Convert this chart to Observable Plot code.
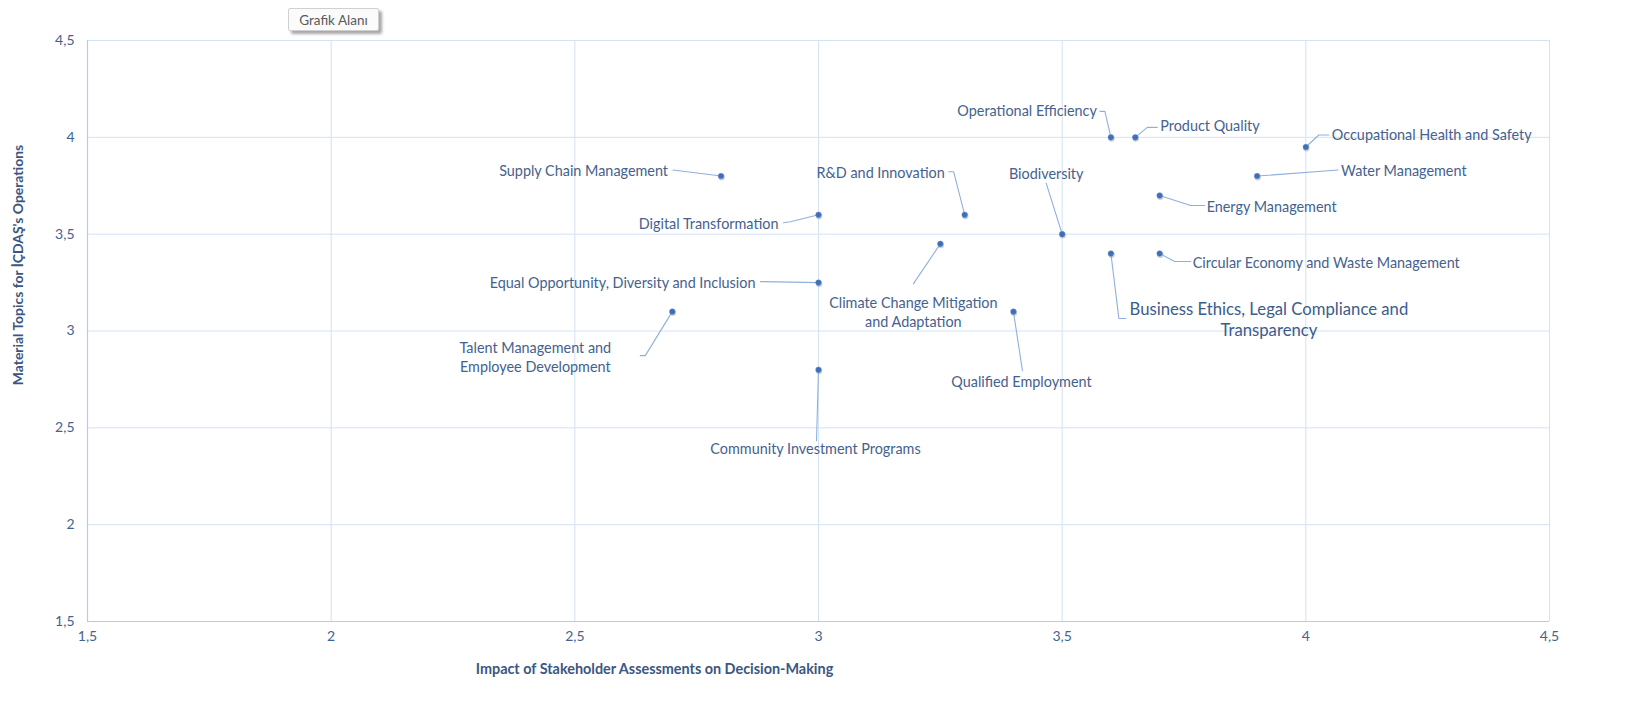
<!DOCTYPE html>
<html>
<head>
<meta charset="utf-8">
<script src="https://cdn.jsdelivr.net/npm/d3@7"></script>
<script src="https://cdn.jsdelivr.net/npm/@observablehq/plot@0.6"></script>
<style>
  html, body { margin: 0; padding: 0; background: #fff; }
  #wrap { position: relative; width: 1634px; height: 710px; }
  #tip {
    position: absolute; left: 288px; top: 8px; width: 91px; height: 23px;
    background: #fbfbfb; border: 1px solid #d0d0d0; border-radius: 2px;
    box-shadow: 3px 3px 3px rgba(0,0,0,0.35);
    font: 13.5px Lato, "Open Sans", sans-serif; color: #5a5a5a;
    line-height: 22px; text-align: center; box-sizing: border-box;
  }
</style>
</head>
<body>
<div id="wrap"><div id="tip">Grafik Alanı</div></div>
<script>
// ---- data ----
const topics = [
  "Supply Chain Management",
  "Digital Transformation",
  "Equal Opportunity, Diversity and Inclusion",
  "Talent Management and\nEmployee Development",
  "Community Investment Programs",
  "Climate Change Mitigation\nand Adaptation",
  "R&D and Innovation",
  "Qualified Employment",
  "Biodiversity",
  "Operational Efficiency",
  "Product Quality",
  "Occupational Health and Safety",
  "Water Management",
  "Energy Management",
  "Circular Economy and Waste Management",
  "Business Ethics, Legal Compliance and\nTransparency"
];
const impact     = [2.8, 3.0, 3.0, 2.7, 3.0, 3.25, 3.3, 3.4, 3.5, 3.6, 3.65, 4.0, 3.9, 3.7, 3.7, 3.6];
const importance = [3.8, 3.6, 3.25, 3.1, 2.8, 3.45, 3.6, 3.1, 3.5, 4.0, 4.0, 3.95, 3.8, 3.7, 3.4, 3.4];
const tickValues = [1.5, 2, 2.5, 3, 3.5, 4, 4.5];
const xTitle = "Impact of Stakeholder Assessments on Decision-Making";
const yTitle = "Material Topics for İÇDAŞ's Operations";

// ---- label layout (pixel offsets from each point): text dx, dy, anchor, leader end lx, ly, elbow ex, ey ----
const labelLayout = [
  [-53, -6, "end",   -48, -6,  -48, -6],
  [-40, 8,  "end",   -35, 8,   -28, 7],
  [-63, -1, "end",   -58, -1,  -58, -1],
  [-137, 45, "middle", -32, 44, -27, 44],
  [-3, 78,  "middle", -2, 71,  -2, 71],
  [-27, 68, "middle", -27, 40, -27, 40],
  [-20, -43, "end",  -16, -43, -11, -43],
  [8, 69,   "middle", 9, 59,   9, 59],
  [-16, -61, "middle", -16, -51, -16, -51],
  [-14, -27, "end",  -11, -26, -6, -26],
  [25, -12, "start", 22, -10,  12, -10],
  [26, -13, "start", 23, -12,  13, -12],
  [84, -6,  "start", 81, -6,   81, -6],
  [47, 10,  "start", 45, 10,   31, 10],
  [33, 8,   "start", 31, 8,    15, 8],
  [158, 65, "middle", 15, 65,  8, 65]
];

// ---- geometry ----
const W = 1634, H = 710;
const mL = 87, mR = 85, mT = 40, mB = 89;
const ux = 3 / (W - mL - mR), uy = 3 / (H - mT - mB);

const pts = topics.map((t, i) => ({
  name: t, x: impact[i], y: importance[i],
  dx: labelLayout[i][0], dy: labelLayout[i][1], anchor: labelLayout[i][2],
  lx: labelLayout[i][3], ly: labelLayout[i][4], ex: labelLayout[i][5], ey: labelLayout[i][6],
  big: i === 15
}));

// leader polylines in data space
const leaders = [];
pts.forEach((p, i) => {
  leaders.push({id: i, x: p.x, y: p.y});
  leaders.push({id: i, x: p.x + p.ex * ux, y: p.y - p.ey * uy});
  leaders.push({id: i, x: p.x + p.lx * ux, y: p.y - p.ly * uy});
});

const fmt = v => String(v).replace(".", ",");
const FONT = "Lato, 'Open Sans', sans-serif";
const TXT = "#44628f";

const labelMark = (anchor) => Plot.text(pts.filter(p => !p.big && p.anchor === anchor), {
  x: d => d.x + d.dx * ux, y: d => d.y - d.dy * uy, text: "name",
  textAnchor: anchor, fontSize: 14.4, fill: TXT, lineHeight: 1.32, lineAnchor: "middle"
});

const chart = Plot.plot({
  width: W, height: H,
  marginLeft: mL, marginRight: mR, marginTop: mT, marginBottom: mB,
  style: {fontFamily: FONT, background: "#fff", overflow: "visible"},
  x: {domain: [1.5, 4.5], ticks: tickValues, label: null},
  y: {domain: [1.5, 4.5], ticks: tickValues, label: null},
  marks: [
    Plot.gridX(tickValues, {stroke: "#d3e2f5", strokeOpacity: 1, strokeWidth: 1}),
    Plot.gridY(tickValues, {stroke: "#d3e2f5", strokeOpacity: 1, strokeWidth: 1}),
    Plot.ruleX([1.5], {stroke: "#b7cbe8", strokeWidth: 1.2}),
    Plot.ruleY([1.5], {stroke: "#b7cbe8", strokeWidth: 1.2}),
    Plot.axisX(tickValues, {tickSize: 0, tickPadding: 10, tickFormat: fmt, fontSize: 14, fill: TXT, fontFamily: FONT}),
    Plot.axisY(tickValues, {tickSize: 0, tickPadding: 13, tickFormat: fmt, fontSize: 14, fill: TXT, fontFamily: FONT}),
    Plot.line(leaders, {x: "x", y: "y", z: "id", stroke: "#8fb0dc", strokeWidth: 1.1}),
    Plot.dot(pts, {x: d => d.x + 0.6 * ux, y: d => d.y - 1.2 * uy, r: 3.2, fill: "#9aa3b0", fillOpacity: 0.5, stroke: "none"}),
    Plot.dot(pts, {x: "x", y: "y", r: 2.8, fill: "#3f6fb8", stroke: "#5b86c9", strokeWidth: 0.5}),
    labelMark("start"),
    labelMark("middle"),
    labelMark("end"),
    Plot.text(pts.filter(p => p.big), {
      x: d => d.x + d.dx * ux, y: d => d.y - d.dy * uy, text: "name",
      textAnchor: "middle", fontSize: 16.7, fill: "#3c5c8c", lineHeight: 1.3, lineAnchor: "middle"
    }),
    Plot.text([xTitle], {frameAnchor: "bottom", dx: -164, dy: 52, textAnchor: "middle", fontSize: 14.4, fontWeight: "bold", fill: "#3a5683"}),
    Plot.text([yTitle], {frameAnchor: "left", dx: -69, dy: -66, textAnchor: "middle", rotate: -90, fontSize: 13.9, fontWeight: "bold", fill: "#3a5683"})
  ]
});
document.getElementById("wrap").prepend(chart);
</script>
</body>
</html>
